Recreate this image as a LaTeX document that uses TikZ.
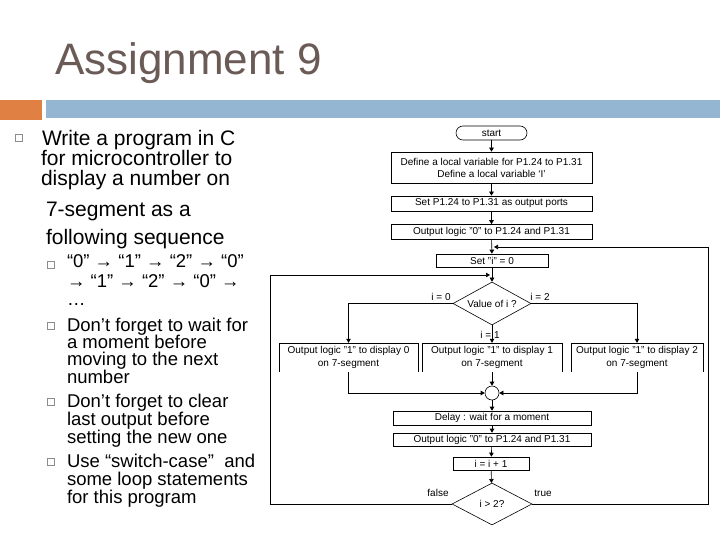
\documentclass[tikz,border=0pt]{standalone}
\usepackage{fontspec}
\setmainfont{Liberation Sans}
\usetikzlibrary{shapes.geometric,arrows.meta}
\definecolor{titlecol}{RGB}{107,91,87}
\definecolor{orangebar}{RGB}{224,128,66}
\definecolor{bluebar}{RGB}{148,182,210}
\definecolor{bulletgray}{RGB}{140,140,140}
\begin{document}
\begin{tikzpicture}[x=1pt,y=-1pt,
 txt/.style={anchor=base west,inner sep=0,outer sep=0},
 body/.style={txt,font=\fontsize{21}{21}\selectfont},
 subtxt/.style={txt,font=\fontsize{18.5}{18.5}\selectfont},
 bul/.style={draw=bulletgray,line width=0.6pt,minimum size=7pt,inner sep=0},
 fbox/.style={draw,line width=0.6pt,inner sep=0,font=\fontsize{10}{12}\selectfont,align=center},
 obox/.style={inner sep=0,font=\fontsize{10}{12.5}\selectfont,align=center},
 flow/.style={line width=0.6pt},
 arr/.style={flow,-{Triangle[length=4pt,width=4.5pt]}},
 lbl/.style={inner sep=0,font=\fontsize{10}{11}\selectfont},
 dia/.style={draw,line width=0.6pt,diamond,shape aspect=1.8,inner sep=0,font=\fontsize{10}{11}\selectfont},
]
\useasboundingbox (0,0) rectangle (720,540);
\fill[white] (0,0) rectangle (720,540);

% title and bars
\node[txt,font=\fontsize{44}{44}\selectfont,text=titlecol] (title) at (55,75) {Assignment 9};
\fill[orangebar] (0,100) rectangle (42,120);
\fill[bluebar] (46,100) rectangle (720,118);

% main bullet
\node[bul] (q0) at (19,138) {};
\node[body] (t1) at (42,146) {Write a program in C};
\node[body] (t2) at (41,166) {for microcontroller to};
\node[body] (t3) at (41,186) {display a number on};
\node[body] (t4) at (46,217) {7-segment as a};
\node[body] (t5) at (46,244) {following sequence};

% sub bullets
\node[bul] (q1) at (51,265) {};
\node[subtxt] (s1) at (67,267) {“0” → “1” → “2” → “0”};
\node[subtxt] (s2) at (67,287) {→ “1” → “2” → “0” →};
\node[subtxt] (s3) at (67,305) {…};
\node[bul] (q2) at (51,326) {};
\node[subtxt] (s4) at (67,331) {Don’t forget to wait for};
\node[subtxt] (s5) at (67,348) {a moment before};
\node[subtxt] (s6) at (67,365) {moving to the next};
\node[subtxt] (s7) at (67,383) {number};
\node[bul] (q3) at (51,402) {};
\node[subtxt] (s8) at (67,407) {Don’t forget to clear};
\node[subtxt] (s9) at (67,425) {last output before};
\node[subtxt] (s10) at (67,443) {setting the new one};
\node[bul] (q4) at (51,462) {};
\node[subtxt] (s11) at (67,467) {Use “switch-case”\ \ and};
\node[subtxt] (s12) at (67,485) {some loop statements};
\node[subtxt] (s13) at (67,503) {for this program};

% flowchart nodes
\node[fbox,rounded corners=7pt,minimum width=71pt,minimum height=14pt] (start) at (491.5,133) {start};
\node[fbox,minimum width=201pt,minimum height=31pt] (b1) at (491.5,167.5) {Define a local variable for P1.24 to P1.31\\Define a local variable ‘I’};
\node[fbox,minimum width=201pt,minimum height=15pt] (b2) at (491.5,203.5) {Set P1.24 to P1.31 as output ports};
\node[fbox,minimum width=201pt,minimum height=15pt] (b3) at (491.5,232) {Output logic "0" to P1.24 and P1.31};
\node[fbox,minimum width=112pt,minimum height=13pt] (b4) at (492,260.5) {Set "i" = 0};
\node[dia,minimum width=78pt,minimum height=43pt] (d1) at (492,303.5) {Value of i ?};

\node[obox,minimum width=139pt,minimum height=29pt] (c0) at (348.5,357.5) {Output logic "1" to display 0\\on 7-segment};
\node[obox,minimum width=140pt,minimum height=29pt] (c1) at (492,357.5) {Output logic "1" to display 1\\on 7-segment};
\node[obox,minimum width=132pt,minimum height=29pt] (c2) at (637,357.5) {Output logic "1" to display 2\\on 7-segment};
\foreach \c in {c0,c1,c2}
  \draw[flow] (\c.south west) -- (\c.north west) -- (\c.north east) -- (\c.south east);

\node[circle,draw,line width=0.6pt,minimum size=14pt,inner sep=0] (j) at (492,393) {};
\node[fbox,minimum width=198pt,minimum height=14pt] (dly) at (492,418) {Delay : wait for a moment};
\node[fbox,minimum width=198pt,minimum height=13pt] (b5) at (492,439.5) {Output logic "0" to P1.24 and P1.31};
\node[fbox,minimum width=76pt,minimum height=13pt] (inc) at (491,463.5) {i = i + 1};
\node[dia,minimum width=80pt,minimum height=42pt] (d2) at (492,504) {i > 2?};

% labels
\node[lbl] (l0) at (441,297) {i = 0};
\node[lbl] (l2) at (540,297) {i = 2};
\node[lbl] (l1) at (490,335) {i = 1};
\node[lbl] (lf) at (438,493) {false};
\node[lbl] (lt) at (543,493) {true};

% connectors
\draw[arr] (start) -- (b1);
\draw[arr] (b1) -- (b2);
\draw[arr] (b2) -- (b3);
\draw[arr] (b3) -- (b4);
\draw[arr] (b4) -- (d1);
\draw[arr] (d1.west) -| (c0.north);
\draw[arr] (d1.east) -| (c2.north);
\draw[arr] (d1.south) -- (c1.north);
\draw[arr] (c0.south) |- (j.west);
\draw[arr] (c2.south) |- (j.east);
\draw[arr] (c1.south) -- (j.north);
\draw[arr] (j.south) -- (dly.north);
\draw[arr] (dly) -- (b5);
\draw[arr] (b5) -- (inc);
\draw[arr] (inc) -- (d2);

\coordinate (m1) at (494,247);
\coordinate (m2) at (490,275);
\coordinate (rloop) at (708,247);
\coordinate (lloop) at (270,275);
\draw[arr] (d2.east) -| (rloop) -- (m1);
\draw[arr] (d2.west) -| (lloop) -- (m2);
\end{tikzpicture}
\end{document}
